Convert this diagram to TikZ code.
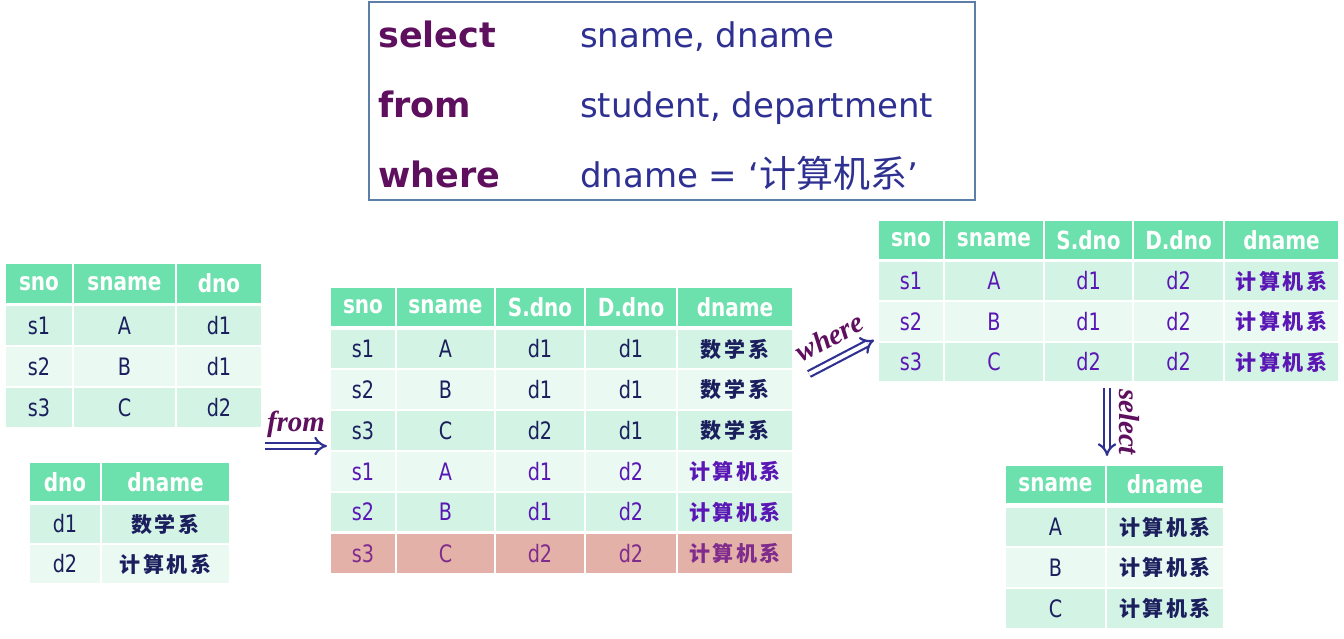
\documentclass[tikz,border=0pt]{standalone}
\usepackage{fontspec}
\setmainfont{DejaVu Sans}
\newfontfamily\tabfont[FakeStretch=0.8]{DejaVu Sans}
\newfontfamily\zhfont{Noto Sans CJK SC}
\newfontfamily\labfont{Liberation Serif}
\usepackage{tikz}
\usetikzlibrary{arrows.meta,positioning}

\definecolor{hdgreen}{HTML}{6CE0AD}
\definecolor{rowa}{HTML}{D3F4E4}
\definecolor{rowb}{HTML}{EAF9F2}
\definecolor{rowred}{HTML}{E4B1A9}
\definecolor{ink}{HTML}{1B1F5E}
\definecolor{dept}{HTML}{5B17B5}
\definecolor{redink}{HTML}{7F2C8C}
\definecolor{kw}{HTML}{5E0F5E}
\definecolor{sqlc}{HTML}{2E3192}
\definecolor{arrowc}{HTML}{2E3192}
\definecolor{boxc}{HTML}{5B7FA6}

\newcommand{\zh}[1]{{\zhfont\bfseries\fontsize{21}{21}\selectfont\addfontfeature{LetterSpace=12}#1}}
% name, x1, x2, y1, y2, options, text
\newcommand{\cell}[7]{\node[tcell,#6,minimum width=#3pt-#2pt,minimum height=#5pt-#4pt] (#1) at ({(#2+#3)/2},{(#4+#5)/2}) {#7};}

\tikzset{
  tcell/.style={inner sep=0pt, font=\tabfont\fontsize{24}{24}\selectfont, text=ink},
  hcell/.style={fill=hdgreen, text=white, font=\tabfont\bfseries\fontsize{25}{25}\selectfont},
  implies/.style={draw=arrowc, double=white, double distance=4pt, line width=2.2pt, -{Implies}},
  lab/.style={font=\labfont\bfseries\itshape\fontsize{29}{29}\selectfont, text=kw, inner sep=2pt},
  kwtext/.style={font=\bfseries\fontsize{35}{35}\selectfont, text=kw, anchor=base west, inner sep=0pt},
  sqltext/.style={font=\fontsize{34}{34}\selectfont, text=sqlc, anchor=base west, inner sep=0pt}
}

\begin{document}
\begin{tikzpicture}[x=1pt,y=-1pt]
  \useasboundingbox (0,0) rectangle (1344,638);

  % query box
  \node[draw=boxc, line width=1.3pt, minimum width=606pt, minimum height=198pt, inner sep=0pt] (sql) at (672,101) {};
  \node[kwtext] (kwsel) at (378,47) {select};
  \node[kwtext] (kwfrom) at (378,117) {from};
  \node[kwtext] (kwwhere) at (378,187) {where};
  \node[sqltext] (valsel) at (580,47) {sname, dname};
  \node[sqltext] (valfrom) at (580,117) {student, department};
  \node[sqltext] (valwhere) at (580,187) {dname = ‘{\zhfont\fontsize{37}{37}\selectfont 计算机系}’};

  % student
  \foreach \xa/\xb/\t [count=\c] in {6/72/sno,74/175/sname,177/261/dno} {
    \cell{st-0-\c}{\xa}{\xb}{264}{303}{hcell}{\t}
  }
  \foreach \ya/\yb/\f/\a/\b/\d [count=\r] in {306/345/rowa/s1/A/d1,347/386/rowb/s2/B/d1,388/427/rowa/s3/C/d2} {
    \cell{st-\r-1}{6}{72}{\ya}{\yb}{fill=\f}{\a}
    \cell{st-\r-2}{74}{175}{\ya}{\yb}{fill=\f}{\b}
    \cell{st-\r-3}{177}{261}{\ya}{\yb}{fill=\f}{\d}
  }

  % department
  \foreach \xa/\xb/\t [count=\c] in {30/100/dno,102/229/dname} {
    \cell{dp-0-\c}{\xa}{\xb}{463}{501}{hcell}{\t}
  }
  \foreach \ya/\yb/\f/\a/\b [count=\r] in {505/543/rowa/d1/\zh{数学系},545/583/rowb/d2/\zh{计算机系}} {
    \cell{dp-\r-1}{30}{100}{\ya}{\yb}{fill=\f}{\a}
    \cell{dp-\r-2}{102}{229}{\ya}{\yb}{fill=\f}{\b}
  }

  % product
  \foreach \xa/\xb/\t [count=\c] in {331/395/sno,397/494/sname,496/584/S.dno,586/676/D.dno,678/792/dname} {
    \cell{pr-0-\c}{\xa}{\xb}{288}{326}{hcell}{\t}
  }
  \foreach \ya/\yb/\f/\tc/\a/\b/\d/\e/\g [count=\r] in {
      330/368/rowa/ink/s1/A/d1/d1/\zh{数学系},
      370/409/rowb/ink/s2/B/d1/d1/\zh{数学系},
      411/450/rowa/ink/s3/C/d2/d1/\zh{数学系},
      452/491/rowb/dept/s1/A/d1/d2/\zh{计算机系},
      493/531/rowa/dept/s2/B/d1/d2/\zh{计算机系},
      534/573/rowred/redink/s3/C/d2/d2/\zh{计算机系}} {
    \cell{pr-\r-1}{331}{395}{\ya}{\yb}{fill=\f,text=\tc}{\a}
    \cell{pr-\r-2}{397}{494}{\ya}{\yb}{fill=\f,text=\tc}{\b}
    \cell{pr-\r-3}{496}{584}{\ya}{\yb}{fill=\f,text=\tc}{\d}
    \cell{pr-\r-4}{586}{676}{\ya}{\yb}{fill=\f,text=\tc}{\e}
    \cell{pr-\r-5}{678}{792}{\ya}{\yb}{fill=\f,text=\tc}{\g}
  }

  % after where
  \foreach \xa/\xb/\t [count=\c] in {879/943/sno,945/1043/sname,1045/1132/S.dno,1134/1223/D.dno,1225/1338/dname} {
    \cell{wh-0-\c}{\xa}{\xb}{221}{259}{hcell}{\t}
  }
  \foreach \ya/\yb/\f/\a/\b/\d [count=\r] in {262/300/rowa/s1/A/d1,302/341/rowb/s2/B/d1,343/381/rowa/s3/C/d2} {
    \cell{wh-\r-1}{879}{943}{\ya}{\yb}{fill=\f,text=dept}{\a}
    \cell{wh-\r-2}{945}{1043}{\ya}{\yb}{fill=\f,text=dept}{\b}
    \cell{wh-\r-3}{1045}{1132}{\ya}{\yb}{fill=\f,text=dept}{\d}
    \cell{wh-\r-4}{1134}{1223}{\ya}{\yb}{fill=\f,text=dept}{d2}
    \cell{wh-\r-5}{1225}{1338}{\ya}{\yb}{fill=\f,text=dept}{\zh{计算机系}}
  }

  % result
  \foreach \xa/\xb/\t [count=\c] in {1006/1105/sname,1107/1223/dname} {
    \cell{rs-0-\c}{\xa}{\xb}{466}{503}{hcell}{\t}
  }
  \foreach \ya/\yb/\f/\a [count=\r] in {508/546/rowa/A,548/587/rowb/B,589/628/rowa/C} {
    \cell{rs-\r-1}{1006}{1105}{\ya}{\yb}{fill=\f}{\a}
    \cell{rs-\r-2}{1107}{1223}{\ya}{\yb}{fill=\f}{\zh{计算机系}}
  }

  % steps
  \coordinate (fromA) at (265,446);
  \coordinate (fromB) at (327,446);
  \coordinate (whereA) at (809,374);
  \coordinate (whereB) at (874,340);
  \coordinate (selA) at (1107,388);
  \coordinate (selB) at (1107,456);
  \draw[implies] (fromA) -- (fromB) node[midway, above=5pt, lab] (fromlab) {from};
  \draw[implies] (whereA) -- (whereB) node[pos=0.48, above=10pt, sloped, lab] (wherelab) {where};
  \draw[implies] (selA) -- (selB) node[midway, above=9pt, sloped, lab] (sellab) {select};
\end{tikzpicture}
\end{document}
